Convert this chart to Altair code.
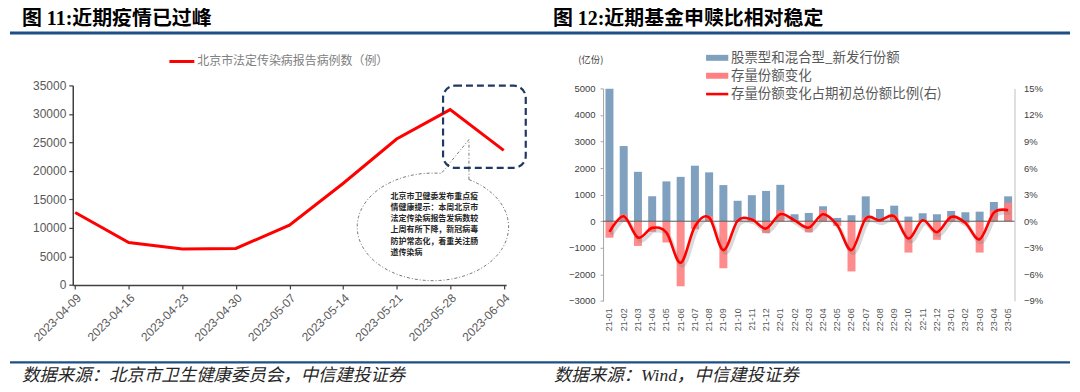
import math
import altair as alt
import pandas as pd

# ---------------- 图 11 data ----------------
dates = ["2023-04-09", "2023-04-16", "2023-04-23", "2023-04-30", "2023-05-07",
         "2023-05-14", "2023-05-21", "2023-05-28", "2023-06-04"]
cases = [12700, 7450, 6300, 6400, 10500, 17800, 25600, 30750, 23600]
case_ticks = [0, 5000, 10000, 15000, 20000, 25000, 30000, 35000]

# ---------------- 图 12 data ----------------
months = ["21-01", "21-02", "21-03", "21-04", "21-05", "21-06", "21-07", "21-08", "21-09",
          "21-10", "21-11", "21-12", "22-01", "22-02", "22-03", "22-04", "22-05", "22-06",
          "22-07", "22-08", "22-09", "22-10", "22-11", "22-12", "23-01", "23-02", "23-03",
          "23-04", "23-05"]
new_issue = [4990, 2830, 1860, 940, 1500, 1670, 2090, 1840, 1360, 770, 980, 1140,
             1370, 262, 311, 562, 124, 225, 937, 461, 585, 174, 300, 262,
             386, 337, 360, 724, 937]
stock_change = [-620, 250, -930, -400, -800, -2450, -300, 200, -1770, 20, 100, -450,
                410, 50, -420, 430, -180, -1890, 150, 50, 250, -1180, 50, -700,
                200, -80, -1180, 420, 700]
ratio_pct = [-1.2, 0.56, -1.84, -0.75, -1.28, -4.69, -0.6, 0.41, -3.26, 0.05, 0.2, -0.83,
             0.79, 0.1, -0.72, 0.79, -0.45, -3.26, 0.3, 0.1, 0.56, -1.95, 0.1, -1.24,
             0.48, -0.19, -2.03, 0.97, 1.24]
share_ticks = [-3000, -2000, -1000, 0, 1000, 2000, 3000, 4000, 5000]
pct_ticks = [-0.09, -0.06, -0.03, 0.0, 0.03, 0.06, 0.09, 0.12, 0.15]

# ---------------- texts ----------------
titles = ["图 11:近期疫情已过峰", "图 12:近期基金申赎比相对稳定"]
sources = ["数据来源：北京市卫生健康委员会，中信建投证券", "数据来源：Wind，中信建投证券"]
legend1 = "北京市法定传染病报告病例数（例）"
legend2 = ["股票型和混合型_新发行份额", "存量份额变化", "存量份额变化占期初总份额比例(右)"]
unit_label = "(亿份)"
callout_lines = ["北京市卫健委发布重点疫", "情健康提示：本周北京市", "法定传染病报告发病数较",
                 "上周有所下降，新冠病毒", "防护常态化，着重关注肠", "道传染病"]

# ---------------- styling / layout ----------------
CJK = "Noto Sans CJK SC"
LAT = "Liberation Sans"
SERIF_MIX = "Liberation Serif, Noto Sans CJK SC"
BLUE_RULE = "#1d4f86"
GRAY_TXT = "#595959"
BAR_BLUE = "#7fa0bf"
BAR_RED = "#ff8080"

W1, H1 = 435, 200.3          # left plot area
W2, H2 = 413, 216.3          # right plot area
O1X, O1Y = 71, 83            # page position of left plot origin
O2X = 603.3                  # page x of right plot origin
SPACING = O2X - O1X - W1

one = pd.DataFrame({"d": [0]})


def px1(x):
    return x - O1X


def py1(y):
    return y - O1Y


def px2(x):
    return x - O2X


def text1(txt, x, y, **kw):
    return alt.Chart(one).mark_text(text=txt, **kw).encode(x=alt.value(x), y=alt.value(y))


# ---------------- left chart ----------------
df1 = pd.DataFrame({"date": dates, "cases": cases})

bg = alt.Chart(one).mark_rect(fill="white", fillOpacity=0, strokeWidth=0).encode(
    x=alt.value(px1(8)), x2=alt.value(px1(1072)), y=alt.value(py1(8)), y2=alt.value(py1(384)))

top_rule = alt.Chart(one).mark_rule(color=BLUE_RULE, strokeWidth=3).encode(
    x=alt.value(px1(8)), x2=alt.value(px1(1072)), y=alt.value(py1(30.5)))
bot_rule = alt.Chart(one).mark_rule(color=BLUE_RULE, strokeWidth=2.5).encode(
    x=alt.value(px1(8)), x2=alt.value(px1(1072)), y=alt.value(py1(361)))

title_l = text1(titles[0], px1(20), py1(16), font=SERIF_MIX, fontSize=20, fontWeight="bold",
                align="left", baseline="middle", color="#000000")
title_r = text1(titles[1], px1(553), py1(16), font=SERIF_MIX, fontSize=20, fontWeight="bold",
                align="left", baseline="middle", color="#000000")
src_l = text1(sources[0], px1(20), py1(375), font=SERIF_MIX, fontSize=17.5, fontStyle="italic",
              align="left", baseline="middle", color="#262626")
src_r = text1(sources[1], px1(554), py1(375), font=SERIF_MIX, fontSize=17.5, fontStyle="italic",
              align="left", baseline="middle", color="#262626")

leg1_line = alt.Chart(one).mark_rule(color="#ff0000", strokeWidth=3).encode(
    x=alt.value(px1(168)), x2=alt.value(px1(193)), y=alt.value(py1(59)))
leg1_text = text1(legend1, px1(196), py1(59), font=CJK, fontSize=12, align="left",
                  baseline="middle", color="#808080")

# speech-bubble callout (ellipse + wedge) drawn as a custom symbol path
rx_px, ry_px = 76.0, 54.0
ry = ry_px / rx_px
t_start, t_end = math.radians(-61.6), math.radians(276.4)
n_seg = 90
pts = []
for i in range(n_seg + 1):
    t = t_start + (t_end - t_start) * i / n_seg
    pts.append((math.cos(t), ry * math.sin(t)))
tip = (36.2 / rx_px, -87.7 / rx_px)
bubble_path = "M{:.4f},{:.4f} ".format(*pts[0]) + " ".join(
    "L{:.4f},{:.4f}".format(*p) for p in pts[1:]) + " L{:.4f},{:.4f} Z".format(*tip)

bubble = alt.Chart(one).mark_point(
    shape=bubble_path, size=(2 * rx_px) ** 2, filled=True, fill="white", stroke="#555555",
    strokeWidth=0.8, strokeDash=[3, 2, 1, 2], opacity=1, fillOpacity=1, strokeOpacity=1
).encode(x=alt.value(px1(432.5)), y=alt.value(py1(225)))

bubble_text = alt.Chart(one).mark_text(
    text=callout_lines, font=CJK, fontSize=8, fontWeight="bold", lineHeight=11.2,
    align="left", baseline="top", color="#262626"
).encode(x=alt.value(px1(390)), y=alt.value(py1(191)))

line1 = alt.Chart(df1).mark_line(color="#ff0000", strokeWidth=3).encode(
    x=alt.X("date:O", sort=None,
            scale=alt.Scale(type="point", padding=0.045),
            axis=alt.Axis(title=None, labelAngle=315, labelAlign="right", labelBaseline="top",
                          labelFont=LAT, labelFontSize=12, labelColor=GRAY_TXT,
                          tickSize=4, tickColor="#404040", tickWidth=1.2, zindex=1,
                          domainColor="#404040", domainWidth=1.5, labelPadding=3, grid=False)),
    y=alt.Y("cases:Q", scale=alt.Scale(domain=[0, 35000], nice=False),
            axis=alt.Axis(title=None, values=case_ticks, format="d", labelFont=LAT,
                          labelFontSize=12, labelColor=GRAY_TXT, tickSize=4, zindex=1,
                          tickColor="#404040", tickWidth=1.2, domainColor="#404040",
                          domainWidth=1.5, labelPadding=3, grid=False)),
)

dash_box = alt.Chart(one).mark_rect(
    fill="white", fillOpacity=0, stroke="#1f3864", strokeWidth=2.2, strokeDash=[7, 4],
    cornerRadius=12
).encode(x=alt.value(px1(442.7)), x2=alt.value(px1(525.7)),
         y=alt.value(py1(83.3)), y2=alt.value(py1(165.7)))

left = alt.layer(
    bg, top_rule, bot_rule, title_l, title_r, src_l, src_r, leg1_line, leg1_text,
    bubble, bubble_text, line1, dash_box
).properties(width=W1, height=H1)

# ---------------- right chart ----------------
df2 = pd.DataFrame({"month": months, "new": new_issue, "chg": stock_change,
                    "ratio": [v / 100 for v in ratio_pct]})
zero_df = pd.DataFrame({"zero": [0]})

x_scale2 = alt.Scale(type="band", paddingInner=0.44, paddingOuter=0.17)
x_axis2 = alt.Axis(title=None, labelAngle=270, labelAlign="right", labelBaseline="middle",
                   labelFont=LAT, labelFontSize=9, labelColor=GRAY_TXT, labelPadding=7,
                   ticks=False, domain=False, grid=False)
y_scale_l = alt.Scale(domain=[-3000, 5000], range=[H2, 3], nice=False)
y_axis_l = alt.Axis(title=None, values=share_ticks, format="d", labelFont=LAT, labelFontSize=9.5,
                    labelColor="#404040", tickSize=3, tickColor="#a6a6a6",
                    domainColor="#a6a6a6", labelPadding=5, grid=False)
y_scale_r = alt.Scale(domain=[-0.09, 0.15], range=[H2, 3], nice=False)
y_axis_r = alt.Axis(title=None, orient="right", values=pct_ticks, format=".0%", labelFont=LAT,
                    labelFontSize=9.5, labelColor="#404040", ticks=False,
                    domainColor="#bfbfbf", labelPadding=9, grid=False)

X2 = alt.X("month:N", sort=months, scale=x_scale2, axis=x_axis2, bandPosition=0.5)

bars_blue = alt.Chart(df2).mark_bar(color=BAR_BLUE).encode(
    x=alt.X("month:N", sort=months, scale=x_scale2, axis=x_axis2),
    y=alt.Y("new:Q", scale=y_scale_l, axis=y_axis_l))
bars_red = alt.Chart(df2).mark_bar(color=BAR_RED, opacity=0.9).encode(
    x=alt.X("month:N", sort=months, scale=x_scale2, axis=x_axis2),
    y=alt.Y("chg:Q", scale=y_scale_l, axis=y_axis_l))
zero_rule = alt.Chart(zero_df).mark_rule(color="#595959", strokeWidth=1).encode(
    y=alt.Y("zero:Q", scale=y_scale_l, axis=y_axis_l))
bars = alt.layer(bars_blue, bars_red, zero_rule)

shadow = alt.Chart(df2).mark_line(
    color="#808080", strokeWidth=4, opacity=0.3, interpolate="cardinal", tension=0,
    xOffset=2, yOffset=3
).encode(x=X2, y=alt.Y("ratio:Q", scale=y_scale_r, axis=y_axis_r))
ratio_line = alt.Chart(df2).mark_line(
    color="#ff0000", strokeWidth=2.6, interpolate="cardinal", tension=0
).encode(x=X2, y=alt.Y("ratio:Q", scale=y_scale_r, axis=y_axis_r))
lines = alt.layer(shadow, ratio_line)


def text2(txt, x, y, **kw):
    return alt.Chart(one).mark_text(text=txt, **kw).encode(x=alt.value(x), y=alt.value(y))


leg_rows_y = [55.3, 73.3, 91.7]
leg_sym_x0, leg_sym_x1, leg_txt_x = 706.7, 729, 731.7
leg_blue = alt.Chart(one).mark_rect(color=BAR_BLUE).encode(
    x=alt.value(px2(leg_sym_x0)), x2=alt.value(px2(leg_sym_x1)),
    y=alt.value(leg_rows_y[0] - 3 - O1Y), y2=alt.value(leg_rows_y[0] + 3 - O1Y))
leg_red = alt.Chart(one).mark_rect(color=BAR_RED).encode(
    x=alt.value(px2(leg_sym_x0)), x2=alt.value(px2(leg_sym_x1)),
    y=alt.value(leg_rows_y[1] - 3 - O1Y), y2=alt.value(leg_rows_y[1] + 3 - O1Y))
leg_line = alt.Chart(one).mark_rule(color="#ff0000", strokeWidth=2.6).encode(
    x=alt.value(px2(leg_sym_x0)), x2=alt.value(px2(leg_sym_x1)),
    y=alt.value(leg_rows_y[2] - O1Y))
leg_texts = [text2(t, px2(leg_txt_x), yy - O1Y, font=CJK, fontSize=13.5, align="left",
                   baseline="middle", color=GRAY_TXT) for t, yy in zip(legend2, leg_rows_y)]
unit = text2(unit_label, px2(591), 57.3 - O1Y, font=CJK, fontSize=9.5, align="center",
             baseline="middle", color="#404040")

right = alt.layer(
    bars, lines, leg_blue, leg_red, leg_line, *leg_texts, unit
).resolve_scale(y="independent").properties(width=W2, height=H2)

chart = alt.hconcat(left, right, spacing=SPACING, bounds="flush").properties(
    padding=0, background="white"
).configure_view(strokeWidth=0)

chart.save("out.html", embed_options={"renderer": "svg", "actions": False})
